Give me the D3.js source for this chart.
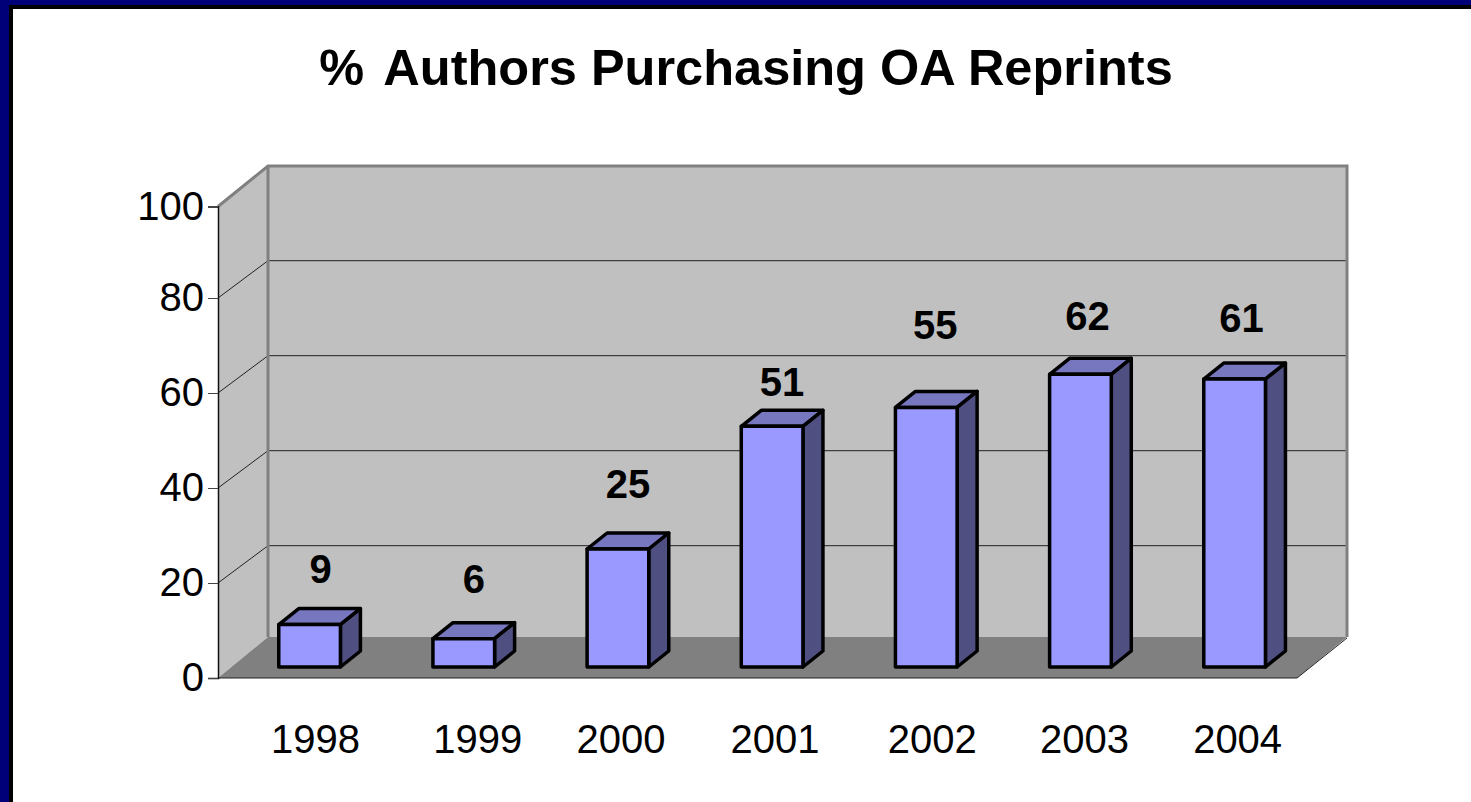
<!DOCTYPE html>
<html>
<head>
<meta charset="utf-8">
<script src="https://cdn.jsdelivr.net/npm/d3@7"></script>
<style>
  html, body { margin: 0; padding: 0; background: #fff; overflow: hidden; }
  svg { display: block; }
  text { font-family: "Liberation Sans", Arial, sans-serif; fill: #000; }
</style>
</head>
<body>
<script>
// chart values
const titleParts = ["%", "Authors Purchasing OA Reprints"];
const years = ["1998", "1999", "2000", "2001", "2002", "2003", "2004"];
const percents = [9, 6, 25, 51, 55, 62, 61];
const yTicks = [0, 20, 40, 60, 80, 100];

const width = 1471, height = 802;

const svg = d3.select("body").append("svg")
  .attr("width", width)
  .attr("height", height);

// slide frame: navy band with a black line, top and left only
svg.append("rect").attr("width", width).attr("height", 9).attr("fill", "#000");
svg.append("rect").attr("width", 13).attr("height", height).attr("fill", "#000");
svg.append("rect").attr("width", width).attr("height", 5).attr("fill", "#000078");
svg.append("rect").attr("width", 9).attr("height", height).attr("fill", "#000078");

// front plane of the box (axis), back plane (gridlines), bar plane
const yFront = d3.scaleLinear().domain([0, 80, 100]).range([678, 298, 206.5]);
const yBack = d3.scaleLinear().domain([0, 20, 80, 100]).range([637, 545.7, 260.7, 166]);
const yBar = d3.scaleLinear().domain([0, 100]).range([667, 195]);

const x = d3.scaleBand()
  .domain(years)
  .range([232.5, 1311.7])
  .paddingInner(0.6)
  .paddingOuter(0.3);

const frontL = 218, frontR = 1297, backL = 268, backR = 1347;
const depthX = 20, depthY = 16; // bar depth

const poly = pts => pts.map(p => p.join(",")).join(" ");

// left wall
svg.append("polygon")
  .attr("points", poly([[frontL, yFront(0)], [frontL, yFront(100)], [backL, yBack(100)], [backL, yBack(0)]]))
  .attr("fill", "#c0c0c0");

// back wall
svg.append("rect")
  .attr("x", backL).attr("y", yBack(100))
  .attr("width", backR - backL).attr("height", yBack(0) - yBack(100))
  .attr("fill", "#c0c0c0");

// floor
svg.append("polygon")
  .attr("points", poly([[frontL, yFront(0)], [backL, yBack(0)], [backR, yBack(0)], [frontR, yFront(0)]]))
  .attr("fill", "#808080");

// gridlines, wall and back
yTicks.filter(t => t > 0 && t < 100).forEach(t => {
  svg.append("polyline")
    .attr("points", poly([[frontL, yFront(t)], [backL, yBack(t)], [backR, yBack(t)]]))
    .attr("fill", "none")
    .attr("stroke", "#222")
    .attr("stroke-width", 1);
});

// grey wall edges
svg.append("polyline")
  .attr("points", poly([[frontL, yFront(100)], [backL, yBack(100)], [backR, yBack(100)], [backR, yBack(0)]]))
  .attr("fill", "none")
  .attr("stroke", "#808080")
  .attr("stroke-width", 3);
svg.append("line")
  .attr("x1", backL).attr("x2", backL)
  .attr("y1", yBack(100)).attr("y2", yBack(0))
  .attr("stroke", "#808080")
  .attr("stroke-width", 3);

// floor front and right edges
svg.append("polyline")
  .attr("points", poly([[frontL, yFront(0)], [frontR, yFront(0)], [backR, yBack(0) + 1]]))
  .attr("fill", "none")
  .attr("stroke", "#222")
  .attr("stroke-width", 1);

// y axis
const yAxis = svg.append("g")
  .attr("transform", `translate(${frontL},0)`)
  .call(d3.axisLeft(yFront).tickValues(yTicks).tickSize(10).tickPadding(4));
yAxis.select(".domain").attr("stroke", "#111").attr("stroke-width", 1.5);
yAxis.selectAll(".tick line").attr("stroke", "#444");
yAxis.selectAll("text").style("font-size", "40px").attr("font-family", null);

// bars
const barData = years.map((y, i) => ({ year: y, value: percents[i] }));
const bars = svg.append("g")
  .selectAll("g")
  .data(barData)
  .join("g")
  .attr("stroke", "#000")
  .attr("stroke-width", 3.5)
  .attr("stroke-linejoin", "round");

bars.append("polygon")
  .attr("fill", "#7777bf")
  .attr("points", d => {
    const l = x(d.year), r = l + x.bandwidth(), t = yBar(d.value);
    return poly([[l, t], [l + depthX, t - depthY], [r + depthX, t - depthY], [r, t]]);
  });

bars.append("polygon")
  .attr("fill", "#4f4f82")
  .attr("points", d => {
    const r = x(d.year) + x.bandwidth(), t = yBar(d.value), b = yBar(0);
    return poly([[r, t], [r + depthX, t - depthY], [r + depthX, b - depthY], [r, b]]);
  });

bars.append("rect")
  .attr("fill", "#9999ff")
  .attr("x", d => x(d.year))
  .attr("y", d => yBar(d.value))
  .attr("width", x.bandwidth())
  .attr("height", d => yBar(0) - yBar(d.value));

// value labels sit by hand in the original, so each has its own nudge
const labelLift = { 1998: 42, 1999: 46, 2000: 51, 2001: 30, 2002: 68, 2003: 44, 2004: 47 };
const labelDx = { 1998: 11, 1999: 10, 2000: 10, 2001: 10, 2002: 9, 2003: 7, 2004: 7 };
svg.append("g")
  .selectAll("text")
  .data(barData)
  .join("text")
  .attr("x", d => x(d.year) + x.bandwidth() / 2 + labelDx[d.year])
  .attr("y", d => yBar(d.value) - labelLift[d.year])
  .attr("text-anchor", "middle")
  .style("font-size", "40px")
  .style("font-weight", "bold")
  .text(d => d.value);

// category labels, also slightly uneven in the original
const labelShift = { 1998: 6, 1999: 14, 2000: 3, 2001: 3, 2002: 6, 2003: 4, 2004: 3 };
const xAxis = svg.append("g")
  .attr("transform", "translate(0,678)")
  .call(d3.axisBottom(x).tickSize(0).tickPadding(47));
xAxis.select(".domain").remove();
xAxis.selectAll("text")
  .style("font-size", "40px")
  .attr("font-family", null)
  .attr("dx", d => labelShift[d]);

// title
const title = svg.append("text")
  .attr("x", 746)
  .attr("y", 85)
  .attr("text-anchor", "middle")
  .style("font-size", "50.5px")
  .style("font-weight", "bold");
title.append("tspan").text(titleParts[0] + " ");
title.append("tspan").attr("dx", 7).text(titleParts[1]);
</script>
</body>
</html>
